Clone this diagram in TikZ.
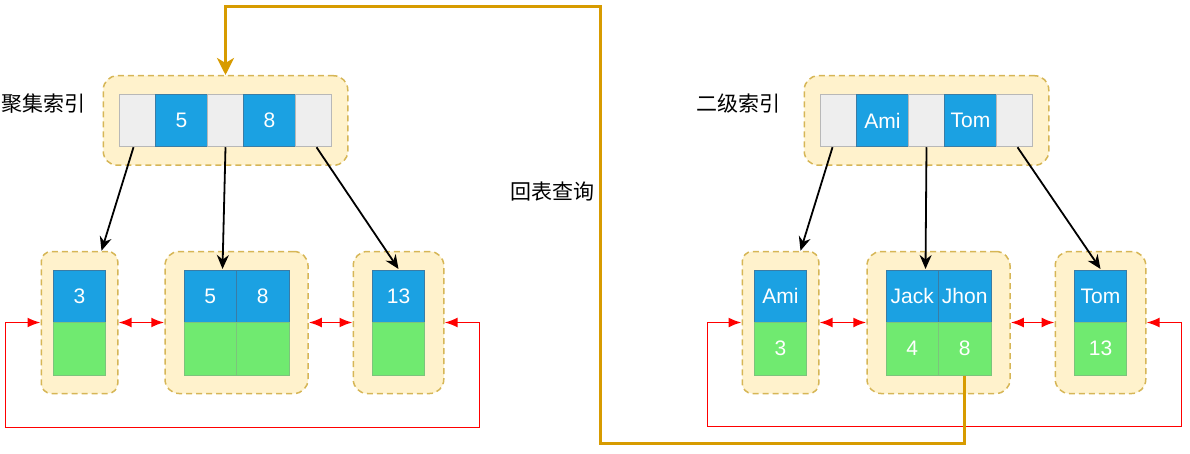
\documentclass[tikz,border=0pt]{standalone}
\usepackage{fontspec}
\setmainfont{Liberation Sans}
\newfontfamily\cjk{Noto Sans CJK SC}
\usetikzlibrary{arrows.meta, positioning, matrix, fit, backgrounds, calc}
\definecolor{cblue}{HTML}{1BA1E2}
\definecolor{cblueline}{HTML}{3A7CA5}
\definecolor{cgreen}{HTML}{70EA70}
\definecolor{cgreenline}{HTML}{7CC47C}
\definecolor{cgap}{HTML}{EEEEEE}
\definecolor{cgapline}{HTML}{B8B8B8}
\definecolor{cpage}{HTML}{FFF2CC}
\definecolor{cpageline}{HTML}{D6B656}
\definecolor{cback}{HTML}{D79B00}
\definecolor{cred}{HTML}{FF0000}
\tikzset{
  every picture/.style={line width=1pt},
  cellfont/.style={font=\fontsize{21}{24}\selectfont, text=white},
  keycell/.style={fill=cblue, draw=cblueline, cellfont, minimum width=52.5pt, minimum height=52.5pt, inner sep=0pt},
  datacell/.style={fill=cgreen, draw=cgreenline, cellfont, minimum width=52.5pt, minimum height=52.5pt, inner sep=0pt},
  gapcell/.style={fill=cgap, draw=cgapline, minimum width=35.5pt, minimum height=52.5pt, inner sep=0pt},
  page/.style={draw=cpageline, fill=cpage, dash pattern=on 6pt off 4pt, line width=1.5pt, rounded corners=14pt, inner xsep=18pt, inner ysep=17.5pt},
  ptr/.style={-{Stealth[length=14pt, width=12pt]}, line width=1.8pt},
  link/.style={{Latex[length=13pt, width=10pt]}-{Latex[length=13pt, width=10pt]}, draw=cred, line width=1.8pt},
  backref/.style={-{Stealth[length=17pt, width=17pt, inset=5pt]}, draw=cback, line width=3pt},
  caption/.style={font=\cjk\fontsize{21}{25}\selectfont, inner sep=0pt},
  rootrow/.style={matrix of nodes, nodes in empty cells, inner sep=0pt, column sep=-\pgflinewidth,
    nodes={anchor=center}},
  leaf/.style={matrix of nodes, nodes in empty cells, inner sep=0pt, column sep=-\pgflinewidth, row sep=-\pgflinewidth,
    nodes={anchor=center}, row 1/.style={nodes=keycell}, row 2/.style={nodes=datacell}},
}

\begin{document}
\begin{tikzpicture}[x=1pt, y=-1pt]
  \useasboundingbox (0,0) rectangle (1190,454);

  % clustered index
  \matrix (rl) [rootrow] at (225.5,120.5)
  { |[gapcell]| & |[keycell]| 5 & |[gapcell]| & |[keycell]| 8 & |[gapcell]| \\ };
  \matrix (la) [leaf] at (79.5,322.5) { 3 \\ \\ };
  \matrix (lb) [leaf] at (236.5,322.5) { 5 & 8 \\ & \\ };
  \matrix (lc) [leaf] at (398.5,322.5) { 13 \\ \\ };

  % secondary index
  \matrix (rr) [rootrow] at (926.5,120.5)
  { |[gapcell]| & |[keycell]| Ami & |[gapcell]| & |[keycell]| Tom & |[gapcell]| \\ };
  \matrix (ld) [leaf] at (780.5,322.5) { Ami \\ 3 \\ };
  \matrix (le) [leaf] at (938.5,322.5) { Jack & Jhon \\ 4 & 8 \\ };
  \matrix (lf) [leaf] at (1100.5,322.5) { Tom \\ 13 \\ };

  \begin{scope}[on background layer]
    \node[page, inner xsep=15.5pt, fit=(rl)] (gl) {};
    \node[page, inner xsep=11pt, rounded corners=10pt, fit=(la)] (ga) {};
    \node[page, fit=(lb)] (gb) {};
    \node[page, fit=(lc)] (gc) {};
    \node[page, inner xsep=15.5pt, fit=(rr)] (gr) {};
    \node[page, inner xsep=11pt, rounded corners=10pt, fit=(ld)] (gd) {};
    \node[page, fit=(le)] (ge) {};
    \node[page, fit=(lf)] (gf) {};
  \end{scope}

  \node[caption, anchor=west] (tl) at (1,104) {聚集索引};
  \node[caption, anchor=west] (tr) at (696,104) {二级索引};
  \node[caption] (tb) at (552,192) {回表查询};

  % pointers
  \draw[ptr] ([xshift=-4pt]rl-1-1.south) -- ([xshift=22pt]ga.north);
  \draw[ptr] (rl-1-3.south) -- ([xshift=-14pt]lb.north);
  \draw[ptr] ([xshift=3pt]rl-1-5.south) -- (lc.north);
  \draw[ptr] ([xshift=-6pt]rr-1-1.south) -- ([xshift=20pt]gd.north);
  \draw[ptr] (rr-1-3.south) -- ([xshift=-13pt]le.north);
  \draw[ptr] ([xshift=3pt]rr-1-5.south) -- (lf.north);

  % leaf links
  \draw[link] (ga.east) -- (gb.west);
  \draw[link] (gb.east) -- (gc.west);
  \coordinate (ra) at ([xshift=-35pt, yshift=-105pt]ga.west);
  \coordinate (rc) at ([xshift=35pt]gc.east);
  \draw[link] (ga.west) -| (ra) -| (rc) -- (gc.east);
  \draw[link] (gd.east) -- (ge.west);
  \draw[link] (ge.east) -- (gf.west);
  \coordinate (rd) at ([xshift=-34pt, yshift=-104pt]gd.west);
  \coordinate (rf) at ([xshift=35pt]gf.east);
  \draw[link] (gd.west) -| (rd) -| (rf) -- (gf.east);

  % back to table
  \coordinate (b1) at (600,443);
  \coordinate (b2) at (600,7);
  \draw[backref] (le-2-2.south) |- (b1) -- (b2) -| (gl.north);
\end{tikzpicture}
\end{document}
